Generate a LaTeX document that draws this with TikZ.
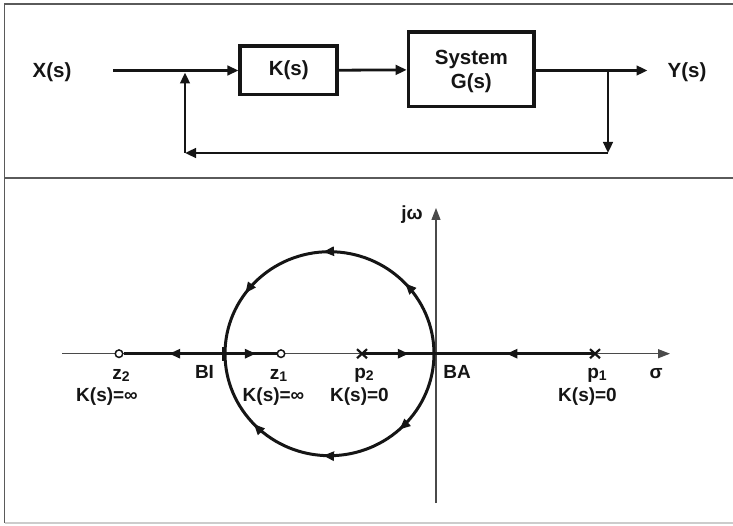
\documentclass[tikz,border=0pt]{standalone}
\usepackage{fontspec}
\setmainfont{Liberation Sans}
\usetikzlibrary{arrows.meta,decorations.markings}
\definecolor{ink}{HTML}{151515}
\definecolor{axisgray}{HTML}{4A4A4A}
\definecolor{framegray}{HTML}{5A5A5A}
\begin{document}
\begin{tikzpicture}[x=1pt,y=1pt,
  toplbl/.style={font=\bfseries\fontsize{20.5}{21}\selectfont, inner sep=0pt, text=ink},
  botlbl/.style={font=\bfseries\fontsize{19}{20}\selectfont, inner sep=0pt, text=ink, anchor=base},
  blk/.style={draw=ink, line width=3.5pt, inner sep=0pt, toplbl},
  conn/.style={draw=ink, line width=2.8pt, -{Triangle[length=11pt,width=9.5pt]}},
  frm/.style={draw=framegray, line width=1.5pt},
  ax/.style={draw=axisgray, line width=1.2pt, -{Triangle[length=12pt,width=9pt]}},
  thk/.style={draw=ink, line width=3pt},
  midarrow/.style={postaction={decorate}, decoration={markings, mark=at position #1 with {\arrow{Triangle[length=11pt,width=9pt]}}}},
  zero/.style={circle, draw=ink, fill=white, line width=1.5pt, minimum size=7.5pt, inner sep=0pt}
]
\useasboundingbox (0,0) rectangle (733,-526);
% frame
\draw[frm] (733,-4) -- (4.5,-4) -- (4.5,-523);
\draw[frm] (4.5,-178) -- (733,-178);
\draw[draw=black!20, line width=1.2pt] (4.5,-523) -- (733,-523);

% ---------- block diagram ----------
\node[toplbl, anchor=base] (X) at (52,-78) {X(s)};
\node[toplbl, anchor=base] (Y) at (687,-78) {Y(s)};
\node[blk, minimum width=97pt, minimum height=48.5pt] (K) at (288.7,-70.5) {K(s)};
\node[blk, minimum width=125.7pt, minimum height=74.5pt] (G) at (471.3,-69.5) {};
\node[toplbl, anchor=base] (Gt1) at (471.3,-65) {System};
\node[toplbl, anchor=base] (Gt2) at (471.3,-88.5) {G(s)};
\coordinate (xin) at (113,-70.5);
\coordinate (yout) at (647.5,-70.5);
\coordinate (br) at (608,-70.5);
\coordinate (fb1) at (608,-153);
\coordinate (fb2) at (185,-153);
\coordinate (fb3) at (185,-72.5);
\draw[conn] (xin) -- (K);
\draw[conn] (K) -- (G);
\draw[conn] (G.east |- yout) -- (yout);
\draw[conn] (br) -- (fb1);
\draw[conn] (fb1) -- (fb2);
\draw[conn] (fb2) -- (fb3);

% ---------- root locus ----------
\coordinate (sl) at (62,-353.7);
\coordinate (sr) at (670,-353.7);
\coordinate (wb) at (436,-503);
\coordinate (wt) at (436,-208);
\draw[ax] (sl) -- (sr);
\draw[ax] (wb) -- (wt);

\coordinate (BI) at (225,-353.7);
\coordinate (BA) at (434,-353.7);
\coordinate (p1) at (595,-353.7);
\coordinate (p2) at (362,-353.7);
\node[zero] (z2) at (119,-353.7) {};
\node[zero] (z1) at (281,-353.7) {};

\draw[thk, midarrow=0.55] (BI) -- (z2);
\draw[thk, midarrow=0.6] (BI) -- (z1);
\draw[thk, midarrow=0.65] (p2) -- (BA);
\draw[thk, midarrow=0.55] (p1) -- (BA);
\draw[draw=ink, line width=3.5pt] (223.5,-347) -- (223.5,-361);

% circle (upper and lower branches from BA to BI)
\draw[thk, postaction={decorate}, decoration={markings,
   mark=at position 0.24 with {\arrow{Triangle[length=11pt,width=9pt]}},
   mark=at position 0.52 with {\arrow{Triangle[length=11pt,width=9pt]}},
   mark=at position 0.80 with {\arrow{Triangle[length=11pt,width=9pt]}}}]
  (BA) arc[start angle=0, end angle=180, x radius=104.5, y radius=102];
\draw[thk, postaction={decorate}, decoration={markings,
   mark=at position 0.265 with {\arrow{Triangle[length=11pt,width=9pt]}},
   mark=at position 0.52 with {\arrow{Triangle[length=11pt,width=9pt]}},
   mark=at position 0.76 with {\arrow{Triangle[length=11pt,width=9pt]}}}]
  (BA) arc[start angle=0, end angle=-180, x radius=104.5, y radius=102];

% poles
\draw[draw=ink, line width=2.2pt] (p1) ++(-5,-4.5) -- ++(10,9) (p1) ++(-5,4.5) -- ++(10,-9);
\draw[draw=ink, line width=2.2pt] (p2) ++(-5,-4.5) -- ++(10,9) (p2) ++(-5,4.5) -- ++(10,-9);

% labels
\node[botlbl] (lz2) at (121,-379) {z{\fontsize{14}{14}\selectfont\raisebox{-2pt}{2}}};
\node[botlbl] (kz2) at (107,-401) {K(s)=∞};
\node[botlbl] (lBI) at (204.5,-378) {BI};
\node[botlbl] (lz1) at (278.5,-379) {z{\fontsize{14}{14}\selectfont\raisebox{-2pt}{1}}};
\node[botlbl] (kz1) at (273.5,-401) {K(s)=∞};
\node[botlbl] (lp2) at (364,-378) {p{\fontsize{14}{14}\selectfont\raisebox{-2pt}{2}}};
\node[botlbl] (kp2) at (359.5,-401) {K(s)=0};
\node[botlbl] (lBA) at (457,-378) {BA};
\node[botlbl] (lp1) at (597,-378) {p{\fontsize{14}{14}\selectfont\raisebox{-2pt}{1}}};
\node[botlbl] (kp1) at (587.5,-401) {K(s)=0};
\node[botlbl] (lsig) at (656,-378) {σ};
\node[botlbl] (ljw) at (412,-220) {jω};
\end{tikzpicture}
\end{document}
